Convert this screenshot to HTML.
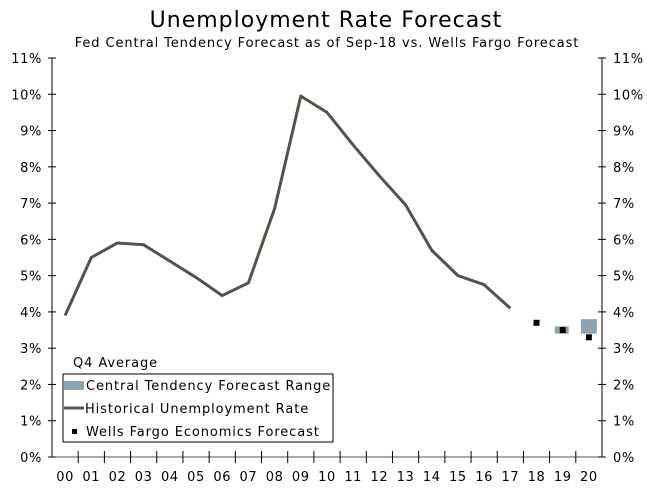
<!DOCTYPE html>
<html><head><meta charset="utf-8"><style>
body{margin:0;background:#fff;}
svg text{font-family:"DejaVu Sans","Liberation Sans",sans-serif;fill:#000;}
</style></head><body>
<svg id="chart" width="647" height="497" xmlns="http://www.w3.org/2000/svg">
<text x="326" y="27" text-anchor="middle" font-size="22" letter-spacing="1">Unemployment Rate Forecast</text>
<text x="327" y="47" text-anchor="middle" font-size="13" letter-spacing="0.9">Fed Central Tendency Forecast as of Sep-18 vs. Wells Fargo Forecast</text>
<g id="axes"></g>
<g id="marks"></g>
<g>
<text x="73" y="367" font-size="13" letter-spacing="0.9">Q4 Average</text>
<rect x="63" y="374" width="270" height="68" fill="#fff" stroke="#000" stroke-width="1"/>
<rect x="64" y="381" width="20" height="9" fill="#8ea3b0"/>
<text x="86" y="390" font-size="13" letter-spacing="0.9">Central Tendency Forecast Range</text>
<line x1="64" y1="408" x2="84" y2="408" stroke="#5a5048" stroke-width="3"/>
<text x="85" y="413" font-size="13" letter-spacing="0.9">Historical Unemployment Rate</text>
<rect x="72" y="429" width="5" height="5" fill="#000"/>
<text x="86" y="436" font-size="13" letter-spacing="0.9">Wells Fargo Economics Forecast</text>
</g>
</svg>
<script>
const categories=["00","01","02","03","04","05","06","07","08","09","10","11","12","13","14","15","16","17","18","19","20"];
const historical=[3.9,5.5,5.9,5.85,5.4,4.95,4.45,4.8,6.85,9.95,9.5,8.6,7.75,6.95,5.7,5.0,4.75,4.1];
const rangeCats=["19","20"];
const rangeLow=[3.4,3.4];
const rangeHigh=[3.6,3.8];
const wfCats=["18","19","20"];
const wfValues=[3.7,3.5,3.3];
const yTicks=[0,1,2,3,4,5,6,7,8,9,10,11];

const NS="http://www.w3.org/2000/svg";
const L=52,R=602,T=58,B=457,YMAX=11;
const step=(R-L)/categories.length;
const x=i=>L+(i+0.5)*step;
const xc=c=>x(categories.indexOf(c));
const y=v=>B-(v/YMAX)*(B-T);
function mk(tag,attrs,parent){const e=document.createElementNS(NS,tag);for(const k in attrs)e.setAttribute(k,attrs[k]);parent.appendChild(e);return e;}
const axes=document.getElementById('axes'),marks=document.getElementById('marks');

const la=mk('line',{x1:L,y1:T,x2:L,y2:B,stroke:'#000','stroke-width':1},axes);


const ra=mk('line',{x1:R,y1:T,x2:R,y2:B,stroke:'#000','stroke-width':1},axes);


const xa=mk('line',{x1:L,y1:B,x2:R,y2:B,stroke:'#5a5048','stroke-width':1},axes);


yTicks.forEach(v=>{
  mk('line',{x1:L-4,y1:y(v),x2:L+4,y2:y(v),stroke:'#000'},axes);
  mk('line',{x1:R-4,y1:y(v),x2:R+4,y2:y(v),stroke:'#000'},axes);
  const t1=mk('text',{x:L-10,y:y(v)+5,'text-anchor':'end','font-size':13,'letter-spacing':0.6},axes);t1.textContent=v+'%';
  
  
  const t2=mk('text',{x:R+11,y:y(v)+5,'font-size':13,'letter-spacing':0.6},axes);t2.textContent=v+'%';
  
  
});
categories.forEach((c,i)=>{
  if(i>0)mk('line',{x1:L+i*step,y1:B-6,x2:L+i*step,y2:B+6,stroke:'#000'},axes);
  const t=mk('text',{x:x(i),y:B+24,'text-anchor':'middle','font-size':13,'letter-spacing':0.6},axes);t.textContent=c;
  
  
});
const pts=historical.map((v,i)=>x(i)+','+y(v)).join(' ');
const line=mk('polyline',{points:pts,fill:'none',stroke:'#5a5048','stroke-width':3,'stroke-linejoin':'round'},marks);


rangeCats.forEach((c,i)=>{
  const w=i===0?14:16;
  const r=mk('rect',{x:xc(c)-w/2+(i===0?-1:0),y:y(rangeHigh[i]),width:w,height:y(rangeLow[i])-y(rangeHigh[i]),fill:'#8ea3b0'},marks);
  
  
});
wfCats.forEach((c,i)=>{
  const r=mk('rect',{x:xc(c)-3,y:y(wfValues[i])-3,width:6,height:6,fill:'#000'},marks);
  
  
});
</script>
</body></html>
